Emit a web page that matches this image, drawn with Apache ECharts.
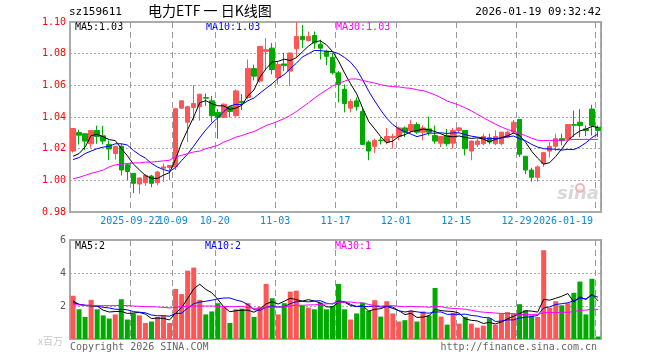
<!DOCTYPE html>
<html><head><meta charset="utf-8">
<script src="https://cdn.jsdelivr.net/npm/echarts@6/dist/echarts.min.js"></script>
<style>html,body{margin:0;padding:0;background:#fff}#c{width:660px;height:360px}</style>
</head><body><div id="c"></div>
<script>
const dates = [
'2025-09-08','2025-09-09','2025-09-10','2025-09-11','2025-09-12','2025-09-15','2025-09-16','2025-09-17','2025-09-18','2025-09-19',
'2025-09-22','2025-09-23','2025-09-24','2025-09-25','2025-09-26','2025-09-29','2025-09-30',
'2025-10-09','2025-10-10','2025-10-13','2025-10-14','2025-10-15','2025-10-16','2025-10-17',
'2025-10-20','2025-10-21','2025-10-22','2025-10-23','2025-10-24','2025-10-27','2025-10-28','2025-10-29','2025-10-30','2025-10-31',
'2025-11-03','2025-11-04','2025-11-05','2025-11-06','2025-11-07','2025-11-10','2025-11-11','2025-11-12','2025-11-13','2025-11-14',
'2025-11-17','2025-11-18','2025-11-19','2025-11-20','2025-11-21','2025-11-24','2025-11-25','2025-11-26','2025-11-27','2025-11-28',
'2025-12-01','2025-12-02','2025-12-03','2025-12-04','2025-12-05','2025-12-08','2025-12-09','2025-12-10','2025-12-11','2025-12-12',
'2025-12-15','2025-12-16','2025-12-17','2025-12-18','2025-12-19','2025-12-22','2025-12-23','2025-12-24','2025-12-25','2025-12-26',
'2025-12-29','2025-12-30','2025-12-31','2026-01-05','2026-01-06','2026-01-07','2026-01-08','2026-01-09',
'2026-01-12','2026-01-13','2026-01-14','2026-01-15','2026-01-16','2026-01-19'];
const opens = [1.0185,1.0302,1.0294,1.0231,1.0315,1.0281,1.0227,1.0169,1.0215,1.0098,
1.0044,0.9977,0.9985,1.0027,0.9985,1.0077,1.0081,1.0085,1.0456,1.0367,
1.0460,1.0465,1.0523,1.0502,1.0429,1.0398,1.0465,1.0408,1.0498,1.0523,
1.0706,1.0627,1.0815,1.0835,1.0648,1.0735,1.0690,1.0831,1.0908,1.0883,
1.0915,1.0860,1.0815,1.0777,1.0679,1.0575,1.0456,1.0502,1.0435,1.0242,
1.0215,1.0254,1.0242,1.0271,1.0277,1.0331,1.0315,1.0352,1.0304,1.0325,
1.0283,1.0235,1.0283,1.0235,1.0315,1.0315,1.0185,1.0227,1.0231,1.0269,
1.0231,1.0231,1.0273,1.0304,1.0385,1.0152,1.0065,1.0019,1.0106,1.0185,
1.0215,1.0263,1.0263,1.0352,1.0367,1.0325,1.0450,1.0335];
const closes = [1.0327,1.0285,1.0248,1.0315,1.0277,1.0248,1.0198,1.0215,1.0065,1.0056,
0.9981,1.0015,1.0031,0.9981,1.0052,1.0085,1.0094,1.0452,1.0502,1.0465,
1.0485,1.0544,1.0519,1.0408,1.0398,1.0481,1.0435,1.0565,1.0490,1.0706,
1.0658,1.0846,1.0825,1.0700,1.0731,1.0725,1.0804,1.0908,1.0888,1.0908,
1.0867,1.0835,1.0783,1.0679,1.0606,1.0485,1.0498,1.0465,1.0227,1.0185,
1.0252,1.0250,1.0277,1.0277,1.0331,1.0304,1.0352,1.0304,1.0331,1.0304,
1.0248,1.0277,1.0231,1.0315,1.0331,1.0200,1.0248,1.0248,1.0277,1.0242,
1.0277,1.0304,1.0304,1.0367,1.0165,1.0065,1.0019,1.0085,1.0175,1.0215,
1.0263,1.0252,1.0352,1.0348,1.0346,1.0315,1.0346,1.0315];
const lows = [1.0175,1.0227,1.0190,1.0206,1.0231,1.0227,1.0127,1.0131,1.0031,1.0002,
0.9919,0.9915,0.9965,0.9956,0.9969,0.9990,1.0002,1.0065,1.0450,1.0242,
1.0377,1.0377,1.0470,1.0367,1.0263,1.0396,1.0398,1.0402,1.0444,1.0512,
1.0631,1.0617,1.0700,1.0669,1.0606,1.0690,1.0596,1.0773,1.0835,1.0877,
1.0831,1.0763,1.0727,1.0669,1.0492,1.0429,1.0429,1.0440,1.0225,1.0127,
1.0173,1.0227,1.0227,1.0200,1.0252,1.0273,1.0298,1.0294,1.0252,1.0283,
1.0231,1.0210,1.0215,1.0200,1.0304,1.0158,1.0127,1.0210,1.0221,1.0227,
1.0221,1.0221,1.0265,1.0294,1.0148,1.0040,0.9992,0.9992,1.0085,1.0144,
1.0185,1.0221,1.0252,1.0273,1.0273,1.0280,1.0283,1.0273];
const highs = [1.0330,1.0319,1.0296,1.0318,1.0346,1.0344,1.0252,1.0217,1.0231,1.0106,
1.0046,1.0017,1.0040,1.0035,1.0060,1.0106,1.0096,1.0454,1.0504,1.0471,
1.0602,1.0546,1.0548,1.0533,1.0450,1.0485,1.0471,1.0575,1.0544,1.0763,
1.0731,1.0848,1.0898,1.0867,1.0748,1.0804,1.0806,1.1000,1.0981,1.0940,
1.0940,1.0888,1.0825,1.0804,1.0690,1.0606,1.0512,1.0523,1.0456,1.0252,
1.0263,1.0273,1.0331,1.0294,1.0340,1.0340,1.0383,1.0367,1.0346,1.0402,
1.0346,1.0279,1.0325,1.0331,1.0335,1.0317,1.0252,1.0263,1.0294,1.0294,
1.0315,1.0306,1.0315,1.0381,1.0387,1.0154,1.0079,1.0094,1.0177,1.0242,
1.0294,1.0294,1.0354,1.0440,1.0450,1.0346,1.0477,1.0346];
const volumes = [2.62,1.80,1.34,2.37,1.80,1.43,1.24,1.49,2.41,1.18,
1.55,1.43,0.97,1.06,1.34,1.43,0.97,3.03,2.72,4.14,
4.33,2.37,1.49,1.67,2.17,1.96,0.97,1.80,1.84,2.17,
1.34,1.96,3.34,2.47,1.49,2.17,2.87,2.93,2.04,1.90,
1.80,2.21,1.80,2.00,3.34,1.80,1.18,1.55,2.21,1.71,
2.35,1.36,2.29,1.55,1.06,1.14,1.73,1.06,1.67,1.43,
3.09,1.36,0.87,1.59,0.93,1.34,0.93,0.69,0.81,1.26,
0.87,1.55,1.63,1.55,2.11,1.73,1.43,1.34,5.38,1.90,
2.29,2.04,2.17,2.80,3.48,1.49,3.65,0.15];
// moving-average values before enough history is on screen
const ma5Head = [1.0152,1.0169,1.0210,1.0283];
const ma10Head = [1.0131,1.0144,1.0169,1.0185,1.0200,1.0210,1.0215,1.0231,1.0231];
const ma30Head = [1.0010,1.0019,1.0031,1.0044,1.0054,1.0065,1.0085,1.0098,1.0102,1.0106,
1.0110,1.0110,1.0115,1.0115,1.0119,1.0123,1.0127,1.0148,1.0158,1.0169,
1.0179,1.0185,1.0200,1.0210,1.0221,1.0242,1.0256,1.0273,1.0283];
const vma5Head = [2.31,2.10,2.04,2.00];
const vma10Head = [2.20,2.10,2.04,2.04,2.00,1.92,1.88,1.80,1.80];
const vma30Head = [2.08,2.06,2.04,2.04,2.02,2.02,2.02,2.02,2.04,2.02,
2.00,1.98,1.96,1.96,1.94,1.92,1.88,1.92,1.96,1.98,
2.00,2.00,2.00,2.00,1.98,1.98,1.96,1.96,1.98];
const tickDates = ['2025-09-22','2025-10-09','2025-10-20','2025-11-03','2025-11-17','2025-12-01','2025-12-15','2025-12-29','2026-01-19'];
const tickLabels = ['2025-09-22','10-09','10-20','11-03','11-17','12-01','12-15','12-29','2026-01-19'];

function ma(arr, n, head) {
  return arr.map((_, i) => {
    if (i < head.length) return head[i];
    let s = 0; for (let k = i - n + 1; k <= i; k++) s += arr[k];
    return +(s / n).toFixed(4);
  });
}
const RED = '#ff5555', GREEN = '#00aa00';
const MONO = 'DejaVu Sans Mono';
const ma5 = ma(closes, 5, ma5Head), ma10 = ma(closes, 10, ma10Head), ma30 = ma(closes, 30, ma30Head);
const vma5 = ma(volumes, 5, vma5Head), vma10 = ma(volumes, 10, vma10Head), vma30 = ma(volumes, 30, vma30Head);
const tickIdx = tickDates.map(d => dates.indexOf(d));
const tickSet = new Set(tickIdx);
const firstTick = tickIdx[0];
const last = dates.length - 1;
const kData = dates.map((d, i) => [opens[i], closes[i], lows[i], highs[i]]);
const vData = volumes.map((v, i) => ({value: v, itemStyle: {color: closes[i] >= opens[i] ? RED : GREEN}}));

const chart = echarts.init(document.getElementById('c'), null, {renderer: 'canvas'});
const gridCommon = {show: true, borderColor: '#aaaaaa', borderWidth: 2, backgroundColor: '#fff'};
const vSplit = {show: true, interval: (idx) => tickSet.has(idx), lineStyle: {color: '#999', type: [6, 4], width: 1}};
const hSplit = {show: true, lineStyle: {color: '#aaa', type: [2, 2], width: 1}};
const lineS = (name, data, color, xi, yi) => ({name, type: 'line', data, xAxisIndex: xi, yAxisIndex: yi,
  showSymbol: false, symbol: 'none', smooth: false, lineStyle: {color, width: 1}, itemStyle: {color}, z: 5, silent: true});
const txt = (x, y, text, color, opts = {}) => ({type: 'text', left: x, top: y,
  style: Object.assign({text, fill: color, font: '10px "' + MONO + '"'}, opts)});
const richLab = {
  a: {color: '#0a88d8', fontFamily: MONO, fontSize: 10, padding: [0, 6, 0, 0]},
  b: {color: '#0a88d8', fontFamily: MONO, fontSize: 10, padding: [0, 70, 0, 0]}
};
const labFmt = (v) => {
  const k = tickDates.indexOf(v);
  if (k < 0) return '';
  return k === tickDates.length - 1 ? '{b|' + tickLabels[k] + '}' : '{a|' + tickLabels[k] + '}';
};

chart.setOption({
  animation: false,
  grid: [
    Object.assign({left: 70, top: 22, width: 531, height: 190}, gridCommon),
    Object.assign({left: 70, top: 240, width: 531, height: 99}, gridCommon)
  ],
  xAxis: [
    {type: 'category', gridIndex: 0, data: dates, boundaryGap: true,
     axisLine: {show: false}, axisTick: {show: false}, splitLine: vSplit,
     axisLabel: {show: true, interval: (idx) => tickSet.has(idx) && idx !== firstTick, margin: 4, hideOverlap: false,
       formatter: labFmt, rich: richLab}},
    {type: 'category', gridIndex: 1, data: dates, boundaryGap: true,
     axisLine: {show: false}, axisTick: {show: false}, axisLabel: {show: false}, splitLine: vSplit},
    {type: 'category', gridIndex: 0, data: dates, boundaryGap: true, position: 'bottom',
     axisLine: {show: false}, axisTick: {show: false}, splitLine: {show: false},
     axisLabel: {show: true, interval: (idx) => idx === firstTick, margin: 4, hideOverlap: false,
       formatter: labFmt, rich: richLab}}
  ],
  yAxis: [
    {type: 'value', gridIndex: 0, min: 0.98, max: 1.10, interval: 0.02, scale: true,
     axisLine: {show: false}, axisTick: {show: false}, splitLine: hSplit,
     axisLabel: {color: '#ff0000', fontFamily: MONO, fontSize: 10, margin: 4, formatter: v => v.toFixed(2)}},
    {type: 'value', gridIndex: 1, min: 0, max: 6, interval: 2,
     axisLine: {show: false}, axisTick: {show: false}, splitLine: hSplit,
     axisLabel: {color: '#555', fontFamily: MONO, fontSize: 10, margin: 4, formatter: v => v === 0 ? '' : String(v)}}
  ],
  series: [
    {name: 'K', type: 'candlestick', data: kData, xAxisIndex: 0, yAxisIndex: 0, barWidth: 5,
     itemStyle: {color: RED, color0: GREEN, borderColor: RED, borderColor0: GREEN, borderWidth: 1}, z: 3, silent: true},
    lineS('MA5', ma5, '#000000', 0, 0),
    lineS('MA10', ma10, '#0000ff', 0, 0),
    lineS('MA30', ma30, '#ff00ff', 0, 0),
    {name: 'VOL', type: 'bar', data: vData, xAxisIndex: 1, yAxisIndex: 1, barWidth: 5, z: 3, silent: true},
    lineS('VMA5', vma5, '#000000', 1, 1),
    lineS('VMA10', vma10, '#0000ff', 1, 1),
    lineS('VMA30', vma30, '#ff00ff', 1, 1)
  ],
  graphic: [
    txt(69, 7, 'sz159611', '#000', {font: '11px "' + MONO + '"'}),
    {type: 'text', left: 148, top: 4, style: {text: '电力ETF 一 日K线图', fill: '#000', font: '14px "Noto Sans CJK SC"'}},
    {type: 'text', right: 59, top: 7, style: {text: '2026-01-19 09:32:42', fill: '#000', font: '11px "' + MONO + '"'}},
    txt(75, 22, 'MA5:' + ma5[last].toFixed(2), '#000'),
    txt(206, 22, 'MA10:' + ma10[last].toFixed(2), '#0000ff'),
    txt(336, 22, 'MA30:' + ma30[last].toFixed(2), '#ff00ff'),
    txt(75, 241, 'MA5:' + Math.floor(vma5[last]), '#000'),
    txt(205, 241, 'MA10:' + Math.floor(vma10[last]), '#0000ff'),
    txt(335, 241, 'MA30:' + Math.floor(vma30[last]), '#ff00ff'),
    {type: 'text', left: 38, top: 336, style: {text: 'x百万', fill: '#c8c8c8', font: '10px "Noto Sans CJK SC"'}},
    txt(70, 342, 'Copyright 2026 SINA.COM', '#666'),
    {type: 'text', right: 63, top: 342, style: {text: 'http://finance.sina.com.cn', fill: '#666', font: '10px "' + MONO + '"'}},
    {type: 'text', left: 557, top: 185, z: 1, style: {text: 'sina', fill: '#d8d8d8', font: 'italic bold 18px "DejaVu Sans"'}},
    {type: 'circle', shape: {cx: 580, cy: 188, r: 4}, z: 1, style: {fill: 'none', stroke: '#f2b5b5', lineWidth: 2}}
  ]
});
</script></body></html>
